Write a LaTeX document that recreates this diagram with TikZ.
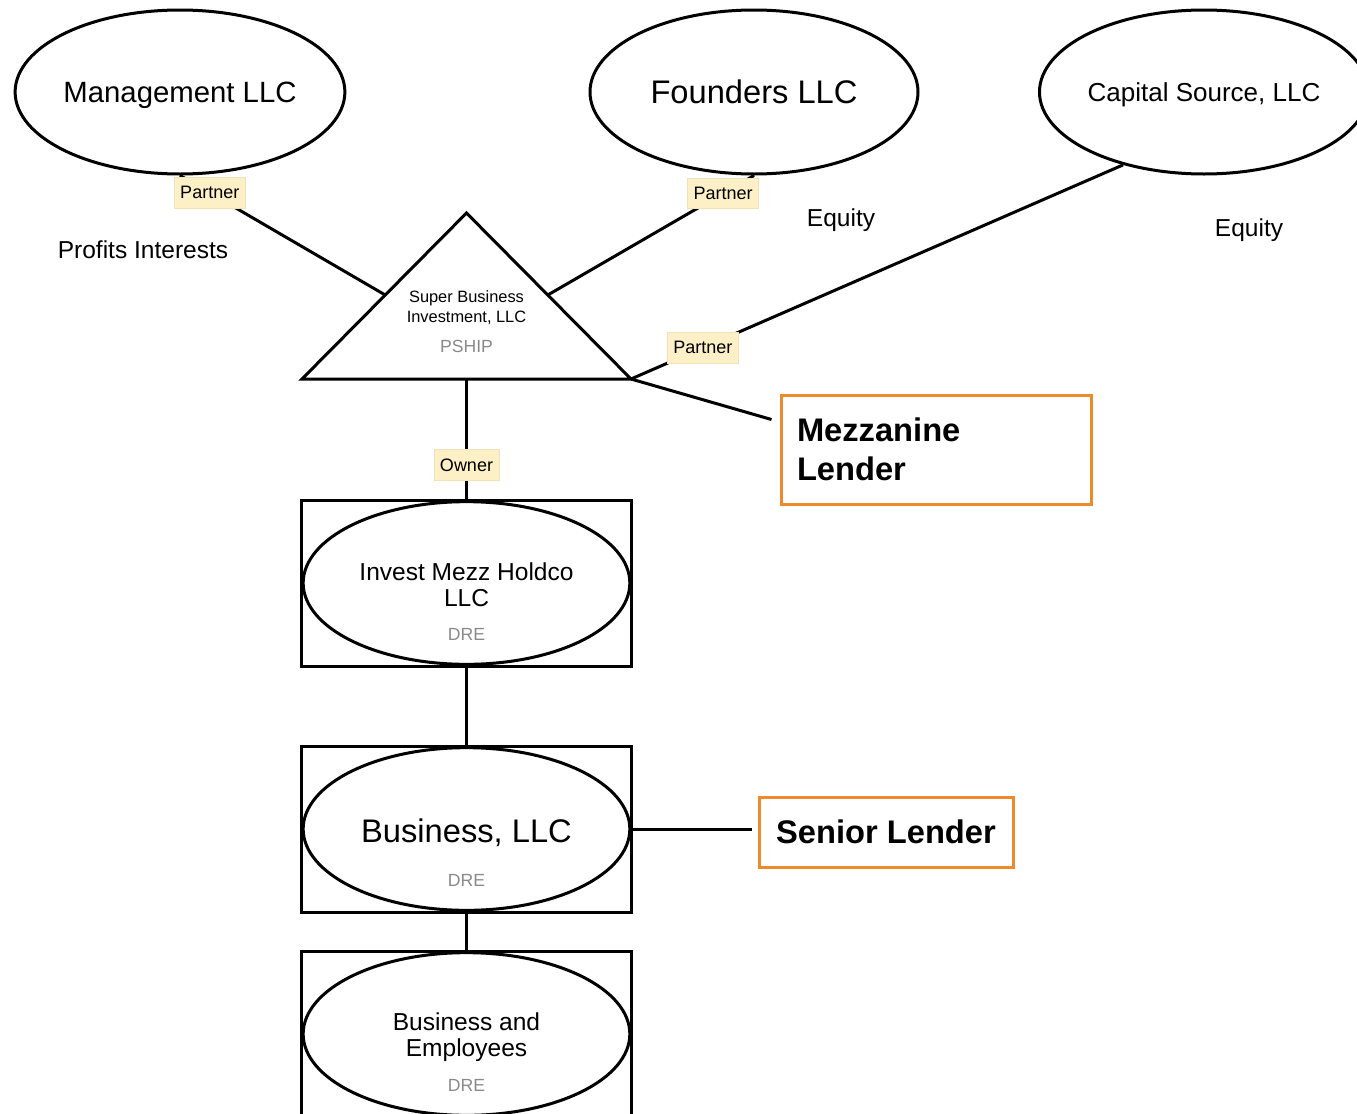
\documentclass[tikz,border=0pt]{standalone}
\usepackage{fontspec}
\setmainfont{Liberation Sans}
\usetikzlibrary{shapes.geometric,calc}
\definecolor{tagfill}{HTML}{FDEFC6}
\definecolor{tagedge}{HTML}{F1E2BC}
\definecolor{lendorange}{HTML}{EF8A2B}
\definecolor{subgray}{HTML}{8A8A8A}
\begin{document}
\begin{tikzpicture}[x=0.75pt,y=-0.75pt,
  line width=2.25pt,
  bigell/.style={ellipse,draw,inner sep=0pt,minimum width=246pt,minimum height=123pt,text depth=0pt},
  drebox/.style={rectangle,draw,inner sep=0pt,minimum width=247.5pt,minimum height=124.5pt},
  innerell/.style={ellipse,draw,inner sep=0pt,minimum width=245pt,minimum height=122pt},
  tagbox/.style={fill=tagfill,draw=tagedge,line width=0.5pt,inner xsep=4.5pt,inner ysep=0pt,
    minimum height=23pt,font=\fontsize{13.5}{16}\selectfont},
  plaintext/.style={font=\fontsize{18.4}{22}\selectfont,text depth=0pt},
  subtext/.style={text=subgray,font=\fontsize{13.2}{16}\selectfont},
  titletext/.style={align=center,font=\fontsize{18.4}{19.5}\selectfont},
  lenderbox/.style={draw=lendorange,line width=2.25pt,font=\fontsize{24.5}{29.3}\selectfont\bfseries}
]
% page
\useasboundingbox (0,0) rectangle (1357,1114);
\fill[white] (0,0) rectangle (1357,1114);
\clip (0,0) rectangle (1357,1114);

% owners at the top
\node[bigell,font=\fontsize{22}{26}\selectfont] (mgmt) at (180,92) {Management LLC};
\node[bigell,font=\fontsize{24.5}{29}\selectfont] (founders) at (754,92) {Founders LLC};
\node[bigell,font=\fontsize{19.5}{23}\selectfont] (capital) at (1204,92) {Capital Source, LLC};

% partnership triangle
\coordinate (tA) at (466.5,213);
\coordinate (tL) at (302,379);
\coordinate (tR) at (631,379);
\coordinate (tB) at ($(tL)!0.5!(tR)$);
\draw[line join=miter] (tA) -- (tL) -- (tR) -- cycle;
\node[align=center,font=\fontsize{12.3}{15}\selectfont] (pshipname) at (466.5,308) {Super Business\\Investment, LLC};
\node[subtext] (pshiptype) at (466.5,346) {PSHIP};
\coordinate (tLp) at ($(tL)!0.506!(tA)$);
\coordinate (tRp) at ($(tR)!0.506!(tA)$);

% entity stack
\node[drebox] (imbox) at (466.5,583) {};
\node[innerell] (imell) at (466.5,583) {};
\node[titletext] (imname) at (466.5,584.5) {Invest Mezz Holdco\\LLC};
\node[subtext] (imtype) at (466.5,634) {DRE};

\node[drebox] (busbox) at (466.5,829) {};
\node[innerell] (busell) at (466.5,829) {};
\node[font=\fontsize{24.5}{29}\selectfont,text depth=0pt] (busname) at (466.5,831) {Business, LLC};
\node[subtext] (bustype) at (466.5,880.5) {DRE};

\node[drebox] (empbox) at (466.5,1034) {};
\node[innerell] (empell) at (466.5,1034) {};
\node[titletext] (empname) at (466.5,1037) {Business and\\Employees};
\node[subtext] (emptype) at (466.5,1085.5) {DRE};

% lenders
\node[lenderbox,minimum width=232.5pt,minimum height=81.75pt,text width=208.5pt,align=left,inner sep=12pt]
  (mezz) at (936,449.5) {Mezzanine\\Lender};
\node[lenderbox,minimum width=190.5pt,minimum height=52.5pt,inner sep=0pt]
  (senior) at (886,832) {Senior Lender};
\coordinate (mzin) at ($(mezz.west)+(-8,-30)$);
\coordinate (snin) at ($(senior.west)+(-6,-3)$);

% free notes
\node[plaintext] (profits) at (143,250) {Profits Interests};
\node[plaintext] (eqa) at (841,218) {Equity};
\node[plaintext] (eqb) at (1249,228) {Equity};

% connectors
\draw (mgmt.south) -- node[tagbox,pos=0.145] (tag1) {Partner} (tLp);
\draw (founders.south) -- node[tagbox,pos=0.15] (tag2) {Partner} (tRp);
\draw (capital.222) -- node[tagbox,pos=0.854] (tag3) {Partner} (tR);
\draw (tR) -- (mzin);
\draw (tB) -- node[tagbox,pos=0.72] (tag4) {Owner} (imbox.north);
\draw (imbox.south) -- (busbox.north);
\draw (busbox.south) -- (empbox.north);
\draw (busbox.east) -- (snin);
\end{tikzpicture}
\end{document}
